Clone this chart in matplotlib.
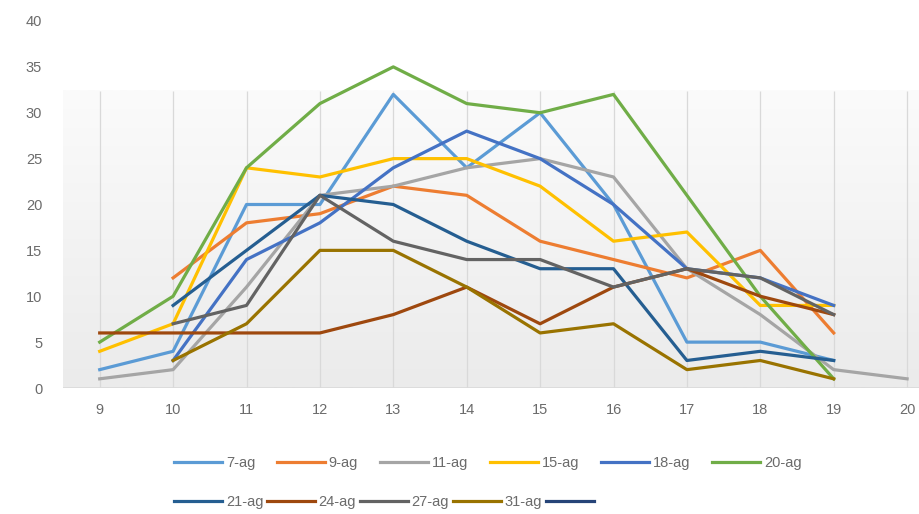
import numpy as np
import matplotlib.pyplot as plt
from matplotlib.lines import Line2D
from matplotlib.colors import LinearSegmentedColormap

plt.rcParams['font.family'] = ['Liberation Sans Narrow', 'Liberation Sans', 'DejaVu Sans']

# Hours on the category axis
hours = [9, 10, 11, 12, 13, 14, 15, 16, 17, 18, 19, 20]

# One list per day, None where the day has no value
ag7 = [2, 4, 20, 20, 32, 24, 30, 20, 5, 5, 3, None]
ag9 = [None, 12, 18, 19, 22, 21, 16, 14, 12, 15, 6, None]
ag11 = [1, 2, 11, 21, 22, 24, 25, 23, 13, 8, 2, 1]
ag15 = [4, 7, 24, 23, 25, 25, 22, 16, 17, 9, 9, None]
ag18 = [None, 3, 14, 18, 24, 28, 25, 20, 13, 12, 9, None]
ag20 = [5, 10, 24, 31, 35, 31, 30, 32, 21, 10, 1, None]
ag21 = [None, 9, 15, 21, 20, 16, 13, 13, 3, 4, 3, None]
ag24 = [6, 6, 6, 6, 8, 11, 7, 11, 13, 10, 8, None]
ag27 = [None, 7, 9, 21, 16, 14, 14, 11, 13, 12, 8, None]
ag31 = [None, 3, 7, 15, 15, 11, 6, 7, 2, 3, 1, None]

labels = ['7-ag', '9-ag', '11-ag', '15-ag', '18-ag', '20-ag',
          '21-ag', '24-ag', '27-ag', '31-ag', '']
colors = ['#5B9BD5', '#ED7D31', '#A5A5A5', '#FFC000', '#4472C4', '#70AD47',
          '#255E91', '#9E480E', '#636363', '#997300', '#264478']
series = [ag7, ag9, ag11, ag15, ag18, ag20, ag21, ag24, ag27, ag31, []]

W, H = 919, 514
fig = plt.figure(figsize=(W / 100, H / 100), dpi=100)
# plot area in pixels: left 63, bottom at y=388, top at y=21
ax = fig.add_axes([63 / W, (H - 388) / H, 1 - 63 / W, (388 - 21) / H])

ax.set_xlim(8.5, 8.5 + (W - 63) / 73.4)
ax.set_ylim(0, 40)

# faint gradient fill in the lower part of the plot area
box_top = 32.4
grad = np.linspace(0, 1, 256).reshape(-1, 1)
ax.imshow(grad, extent=(8.5, 21, 0, box_top), origin='lower', aspect='auto',
          cmap=LinearSegmentedColormap.from_list('g', ['#ebebeb', '#fbfbfb']),
          zorder=0)

ax.vlines(hours, 0, box_top, color='#d9d9d9', lw=0.9, zorder=1)
ax.axhline(0, color='#d9d9d9', lw=1.2, zorder=1)

for vals, c in zip(series, colors):
    if len(vals) == 0:
        continue
    xs = [h for h, v in zip(hours, vals) if v is not None]
    ys = [v for v in vals if v is not None]
    ax.plot(xs, ys, color=c, lw=2.3, zorder=3)

ax.set_xticks(hours)
ax.set_xticklabels([str(h) for h in hours])
ax.set_yticks(range(0, 41, 5))
ax.tick_params(axis='both', length=0, colors='#6b6b6b', labelsize=10.5)
ax.tick_params(axis='x', pad=11)
ax.tick_params(axis='y', pad=15)
for s in ax.spines.values():
    s.set_visible(False)

# legend in two rows, both starting at the same left edge
handles = [Line2D([0], [0], color=c, lw=2.3) for c in colors]
kw = dict(frameon=False, fontsize=10.5, handlelength=3.3, handletextpad=0.25,
          labelcolor='#6b6b6b', borderaxespad=0, borderpad=0)
fig.legend(handles[:6], labels[:6], ncol=6, loc='center left',
           bbox_to_anchor=(174 / W, 1 - 463 / H), columnspacing=1.5, **kw)
fig.legend(handles[6:], labels[6:], ncol=5, loc='center left',
           bbox_to_anchor=(174 / W, 1 - 502 / H), columnspacing=0.25, **kw)

fig.savefig('out.png', dpi=100)
